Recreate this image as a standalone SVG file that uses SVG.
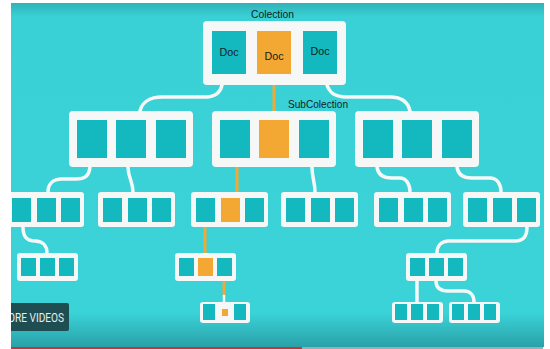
<svg xmlns="http://www.w3.org/2000/svg" width="550" height="349" viewBox="0 0 550 349">
  <defs>
    <linearGradient id="panelFill" gradientUnits="userSpaceOnUse" x1="0" y1="3" x2="0" y2="347">
      <stop offset="0" stop-color="#2FB2B8"/>
      <stop offset="0.04" stop-color="#3AD1D6"/>
      <stop offset="0.9" stop-color="#3AD3D8"/>
      <stop offset="1" stop-color="#2AA1A8"/>
    </linearGradient>
    <clipPath id="panelClip">
      <rect x="11" y="3" width="533" height="344"/>
    </clipPath>
    <style>
      .frame { fill: #F6F8F8; }
      .doc { fill: #14B8BF; }
      .sel { fill: #F2A832; }
      .link { fill: none; stroke: #F6F8F8; stroke-width: 3.5; stroke-linecap: round; }
      .link.hot { stroke: #F2A832; stroke-width: 3; stroke-linecap: butt; }
      .label { font-family: "Liberation Sans", Arial, sans-serif; font-size: 11.5px; fill: #10221F; }
    </style>
  </defs>

  <rect width="550" height="349" fill="#FFFFFF"/>
  <rect x="11" y="3" width="533" height="344" fill="url(#panelFill)"/>

  <g clip-path="url(#panelClip)">
    <!-- connectors -->
    <g id="connectors">
      <path class="link" d="M222,85 C220,94 214,97 204,97 L162,97 C150,97 142,102 140,111"/>
      <path class="link" d="M327,85 C330,94 336,97 346,97 L390,97 C402,97 408,102 410,111"/>
      <path class="link hot" d="M274,85 L274,111"/>
      <path class="link" d="M90,167 C89,176 85,179 76,179 L62,179 C53,179 48,184 48,192"/>
      <path class="link" d="M128,167 C128,178 133,181 133,192"/>
      <path class="link hot" d="M237,167 L237,192"/>
      <path class="link" d="M312,167 C312,178 315,182 315,192"/>
      <path class="link" d="M377,167 C378,175 384,178 392,178 L400,178 C406,178 410,184 410,192"/>
      <path class="link" d="M457,167 C458,175 464,178 472,178 L490,178 C497,178 501,184 501,192"/>
      <path class="link" d="M23,227 C23,237 27,241 35,241 C43,241 47,246 47,253"/>
      <path class="link hot" d="M205,227 L205,253"/>
      <path class="link hot" d="M224,281 L224,296"/>
      <path class="link" d="M224,296 L224,302" style="stroke-width:2.5"/>
      <path class="link" d="M527,227 C527,237 523,241 515,241 L449,241 C441,241 437,246 437,253"/>
      <path class="link" d="M417,281 L417,302"/>
      <path class="link" d="M436,281 C436,288 440,291 448,291 L464,291 C471,291 474,296 474,302"/>
    </g>

    <!-- collection -->
    <g id="collection">
      <rect class="frame" x="203" y="21" width="143" height="64" rx="4"/>
      <rect class="doc" x="212" y="31" width="34" height="43"/>
      <rect class="sel" x="257" y="31" width="34" height="43"/>
      <rect class="doc" x="303" y="31" width="34" height="43"/>
      <text class="label" x="229" y="56" text-anchor="middle" textLength="19" lengthAdjust="spacingAndGlyphs">Doc</text>
      <text class="label" x="274" y="60" text-anchor="middle" textLength="19" lengthAdjust="spacingAndGlyphs">Doc</text>
      <text class="label" x="320" y="55" text-anchor="middle" textLength="19" lengthAdjust="spacingAndGlyphs">Doc</text>
    </g>
    <text class="label" x="251" y="18" textLength="43" lengthAdjust="spacingAndGlyphs">Colection</text>
    <text class="label" x="288" y="108" textLength="60" lengthAdjust="spacingAndGlyphs">SubColection</text>

    <!-- second level -->
    <g id="level2-left">
      <rect class="frame" x="69" y="111" width="124" height="56" rx="4"/>
      <rect class="doc" x="77" y="120" width="30" height="38"/>
      <rect class="doc" x="116" y="120" width="30" height="38"/>
      <rect class="doc" x="156" y="120" width="30" height="38"/>
    </g>
    <g id="level2-mid">
      <rect class="frame" x="212" y="111" width="124" height="56" rx="4"/>
      <rect class="doc" x="220" y="120" width="30" height="38"/>
      <rect class="sel" x="259" y="120" width="30" height="38"/>
      <rect class="doc" x="299" y="120" width="30" height="38"/>
    </g>
    <g id="level2-right">
      <rect class="frame" x="355" y="111" width="124" height="56" rx="4"/>
      <rect class="doc" x="363" y="120" width="30" height="38"/>
      <rect class="doc" x="402" y="120" width="30" height="38"/>
      <rect class="doc" x="442" y="120" width="30" height="38"/>
    </g>

    <!-- third level -->
    <g id="level3-a">
      <rect class="frame" x="7" y="192" width="77" height="35" rx="3"/>
      <rect class="doc" x="12" y="198" width="19" height="24"/>
      <rect class="doc" x="37" y="198" width="19" height="24"/>
      <rect class="doc" x="61" y="198" width="19" height="24"/>
    </g>
    <g id="level3-b">
      <rect class="frame" x="98" y="192" width="77" height="35" rx="3"/>
      <rect class="doc" x="103" y="198" width="19" height="24"/>
      <rect class="doc" x="128" y="198" width="19" height="24"/>
      <rect class="doc" x="152" y="198" width="19" height="24"/>
    </g>
    <g id="level3-c">
      <rect class="frame" x="191" y="192" width="77" height="35" rx="3"/>
      <rect class="doc" x="196" y="198" width="19" height="24"/>
      <rect class="sel" x="221" y="198" width="19" height="24"/>
      <rect class="doc" x="245" y="198" width="19" height="24"/>
    </g>
    <g id="level3-d">
      <rect class="frame" x="281" y="192" width="77" height="35" rx="3"/>
      <rect class="doc" x="286" y="198" width="19" height="24"/>
      <rect class="doc" x="311" y="198" width="19" height="24"/>
      <rect class="doc" x="335" y="198" width="19" height="24"/>
    </g>
    <g id="level3-e">
      <rect class="frame" x="374" y="192" width="77" height="35" rx="3"/>
      <rect class="doc" x="379" y="198" width="19" height="24"/>
      <rect class="doc" x="404" y="198" width="19" height="24"/>
      <rect class="doc" x="428" y="198" width="19" height="24"/>
    </g>
    <g id="level3-f">
      <rect class="frame" x="463" y="192" width="77" height="35" rx="3"/>
      <rect class="doc" x="468" y="198" width="19" height="24"/>
      <rect class="doc" x="493" y="198" width="19" height="24"/>
      <rect class="doc" x="517" y="198" width="19" height="24"/>
    </g>

    <!-- fourth level -->
    <g id="level4-left">
      <rect class="frame" x="17" y="253" width="61" height="28" rx="3"/>
      <rect class="doc" x="21" y="258" width="15" height="18"/>
      <rect class="doc" x="40" y="258" width="15" height="18"/>
      <rect class="doc" x="59" y="258" width="15" height="18"/>
    </g>
    <g id="level4-mid">
      <rect class="frame" x="175" y="253" width="61" height="28" rx="3"/>
      <rect class="doc" x="179" y="258" width="15" height="18"/>
      <rect class="sel" x="198" y="258" width="15" height="18"/>
      <rect class="doc" x="217" y="258" width="15" height="18"/>
    </g>
    <g id="level4-right">
      <rect class="frame" x="406" y="253" width="61" height="28" rx="3"/>
      <rect class="doc" x="410" y="258" width="15" height="18"/>
      <rect class="doc" x="429" y="258" width="15" height="18"/>
      <rect class="doc" x="448" y="258" width="15" height="18"/>
    </g>

    <!-- fifth level -->
    <g id="level5-mid">
      <rect class="frame" x="200" y="302" width="50" height="21" rx="3"/>
      <rect class="doc" x="203" y="304" width="12" height="16"/>
      <rect class="sel" x="222" y="309" width="6" height="7"/>
      <rect class="doc" x="234" y="304" width="12" height="16"/>
    </g>
    <g id="level5-right-a">
      <rect class="frame" x="392" y="302" width="51" height="21" rx="3"/>
      <rect class="doc" x="395" y="304" width="12" height="16"/>
      <rect class="doc" x="411" y="304" width="12" height="16"/>
      <rect class="doc" x="427" y="304" width="12" height="16"/>
    </g>
    <g id="level5-right-b">
      <rect class="frame" x="449" y="302" width="51" height="21" rx="3"/>
      <rect class="doc" x="452" y="304" width="12" height="16"/>
      <rect class="doc" x="468" y="304" width="12" height="16"/>
      <rect class="doc" x="484" y="304" width="12" height="16"/>
    </g>

    <!-- overlay button -->
    <rect x="5" y="303" width="64" height="28" rx="2" fill="#1E4E52"/>
    <text x="8" y="322" font-family="Roboto, 'Liberation Sans', sans-serif" font-size="12.5" fill="#E6EEEE" textLength="56" lengthAdjust="spacingAndGlyphs">ORE VIDEOS</text>
  </g>

  <!-- progress bar -->
  <rect x="11" y="347" width="291" height="2" fill="#C9343A"/>
  <rect x="302" y="347" width="241" height="2" fill="#8FB4B7"/>
</svg>
